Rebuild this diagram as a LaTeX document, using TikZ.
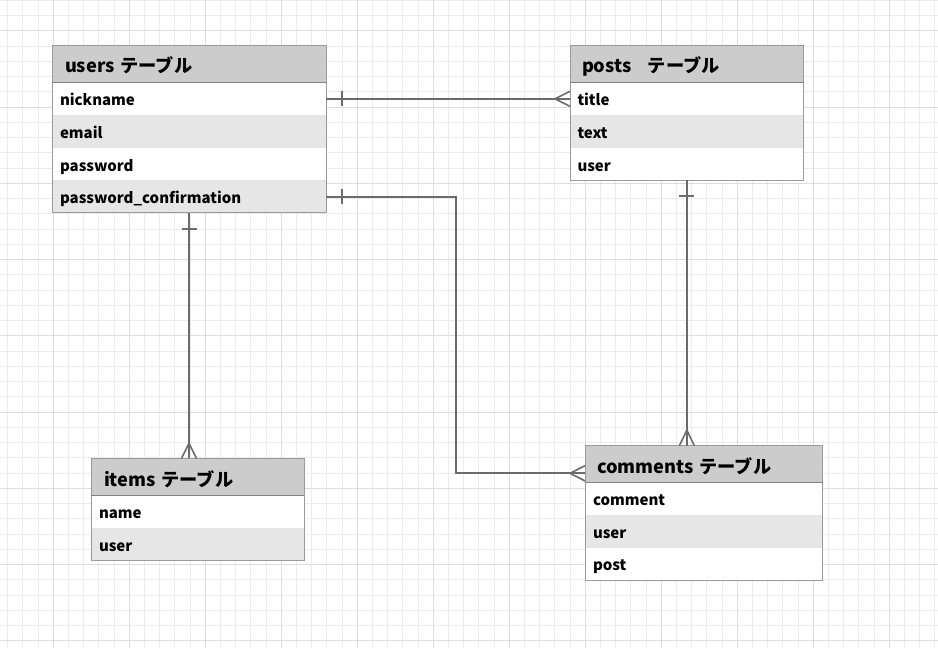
\documentclass[tikz,border=0pt]{standalone}
\usepackage{fontspec}
\setmainfont{Noto Sans CJK JP}
\definecolor{gridminor}{HTML}{EBEBEB}
\definecolor{gridmajor}{HTML}{DCDCDC}
\definecolor{hdrgray}{HTML}{CCCCCC}
\definecolor{rowgray}{HTML}{E6E6E6}
\definecolor{tblborder}{HTML}{9A9A9A}
\definecolor{hdrline}{HTML}{808080}
\definecolor{linegray}{HTML}{6B6B6B}
\begin{document}
\begin{tikzpicture}[x=1pt,y=-1pt,
  every node/.style={inner sep=0pt, outer sep=0pt},
  hdrcell/.style={fill=hdrgray, anchor=north west, minimum height=37.5pt,
    inner xsep=13pt, text height=18pt, text depth=0pt, align=left,
    font=\bfseries\fontsize{18.2}{20}\selectfont},
  basecell/.style={anchor=north west, minimum height=32.6pt,
    inner xsep=8pt, text height=14pt, text depth=0pt, align=left,
    font=\bfseries\fontsize{15}{17}\selectfont},
  whiterow/.style={basecell, fill=white},
  grayrow/.style={basecell, fill=rowgray},
  tblframe/.style={draw=tblborder, line width=1pt},
  hdrsep/.style={draw=hdrline, line width=1pt},
  relline/.style={draw=linegray, line width=2pt},
  crowfoot/.style={draw=linegray, line width=1.6pt},
]
\useasboundingbox (0,0) rectangle (938,648);
\fill[white] (0,0) rectangle (938,648);
% grid
\foreach \i in {0,...,61} {
  \draw[gridminor, line width=1pt] ({7.7+15.2*\i},0) -- ({7.7+15.2*\i},648);
}
\foreach \j in {0,...,42} {
  \draw[gridminor, line width=1pt] (0,{0.25+15.25*\j}) -- (938,{0.25+15.25*\j});
}
\foreach \i in {0,...,12} {
  \draw[gridmajor, line width=1pt] ({-22.7+76.03*\i},0) -- ({-22.7+76.03*\i},648);
}
\foreach \j in {0,...,8} {
  \draw[gridmajor, line width=1pt] (0,{30.75+76.25*\j}) -- (938,{30.75+76.25*\j});
}

% users table
\node[hdrcell, text width=248pt] (uh) at (52,45) {users テーブル};
\node[whiterow, text width=258pt] (u1) at (52,82.5) {nickname};
\node[grayrow, text width=258pt] (u2) at (52,115.1) {email};
\node[whiterow, text width=258pt] (u3) at (52,147.7) {password};
\node[grayrow, text width=258pt] (u4) at (52,180.3) {password\_confirmation};
\draw[tblframe] (uh.north west) rectangle (u4.south east);
\draw[hdrsep] (uh.south west) -- (uh.south east);

% posts table
\node[hdrcell, inner xsep=12pt, text width=209.7pt] (ph) at (570,45) {posts\hspace{0.9em}テーブル};
\node[whiterow, inner xsep=7.5pt, text width=218.7pt] (p1) at (570,82.5) {title};
\node[grayrow, inner xsep=7.5pt, text width=218.7pt] (p2) at (570,115.1) {text};
\node[whiterow, inner xsep=7.5pt, text width=218.7pt] (p3) at (570,147.7) {user};
\draw[tblframe] (ph.north west) rectangle (p3.south east);
\draw[hdrsep] (ph.south west) -- (ph.south east);

% items table
\node[hdrcell, text width=187pt] (ih) at (91,458.3) {items テーブル};
\node[whiterow, text width=197pt] (i1) at (91,495.5) {name};
\node[grayrow, text width=197pt] (i2) at (91,528.1) {user};
\draw[tblframe] (ih.north west) rectangle (i2.south east);
\draw[hdrsep] (ih.south west) -- (ih.south east);

% comments table
\node[hdrcell, inner xsep=12pt, text width=213.6pt, minimum height=36.6pt] (ch) at (585,445.7) {comments テーブル};
\node[whiterow, text width=221.6pt] (c1) at (585,482.3) {comment};
\node[grayrow, text width=221.6pt] (c2) at (585,514.9) {user};
\node[whiterow, text width=221.6pt] (c3) at (585,547.5) {post};
\draw[tblframe] (ch.north west) rectangle (c3.south east);
\draw[hdrsep] (ch.south west) -- (ch.south east);

% relation: users.nickname -> posts.title
\draw[relline] (u1.east) -- (p1.west);
\draw[relline] ([xshift=16pt,yshift=7.5pt]u1.east) -- ([xshift=16pt,yshift=-7.5pt]u1.east);
\draw[crowfoot] ([xshift=-15pt]p1.west) -- ([yshift=7.5pt]p1.west);
\draw[crowfoot] ([xshift=-15pt]p1.west) -- ([yshift=-7.5pt]p1.west);

% relation: users.password_confirmation -> comments
\coordinate (bend) at (455.5,300);
\coordinate (cin) at ([yshift=-9.3pt]ch.west);
\draw[relline] (u4.east) -- (u4.east -| bend) -- (bend |- cin) -- (cin);
\draw[relline] ([xshift=16pt,yshift=7.5pt]u4.east) -- ([xshift=16pt,yshift=-7.5pt]u4.east);
\draw[crowfoot] ([xshift=-15pt]cin) -- ([yshift=7.6pt]cin);
\draw[crowfoot] ([xshift=-15pt]cin) -- ([yshift=-7.6pt]cin);

% relation: users -> items
\coordinate (itop) at (u4.south |- ih.north);
\draw[relline] (u4.south) -- (itop);
\draw[relline] ([xshift=-7.5pt,yshift=-16pt]u4.south) -- ([xshift=7.5pt,yshift=-16pt]u4.south);
\draw[crowfoot] ([yshift=15pt]itop) -- ([xshift=-7.5pt]itop);
\draw[crowfoot] ([yshift=15pt]itop) -- ([xshift=7.5pt]itop);

% relation: posts -> comments
\coordinate (ctop) at (p3.south |- ch.north);
\draw[relline] (p3.south) -- (ctop);
\draw[relline] ([xshift=-7.5pt,yshift=-16pt]p3.south) -- ([xshift=7.5pt,yshift=-16pt]p3.south);
\draw[crowfoot] ([yshift=15.5pt]ctop) -- ([xshift=-7.5pt]ctop);
\draw[crowfoot] ([yshift=15.5pt]ctop) -- ([xshift=7.5pt]ctop);
\end{tikzpicture}
\end{document}
